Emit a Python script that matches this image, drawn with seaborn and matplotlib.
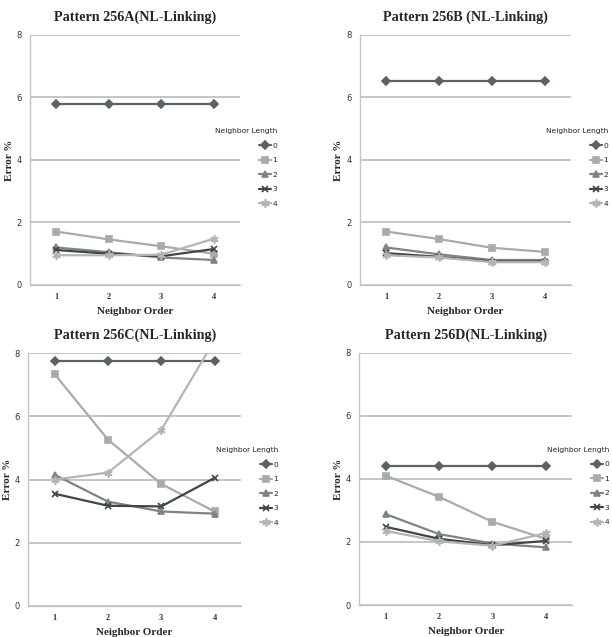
import numpy as np
import matplotlib
matplotlib.use("Agg")
import matplotlib.pyplot as plt
import seaborn as sns

orders = [1, 2, 3, 4]
lengths = ["0", "1", "2", "3", "4"]

titles = ["Pattern 256A(NL-Linking)", "Pattern 256B (NL-Linking)",
          "Pattern 256C(NL-Linking)", "Pattern 256D(NL-Linking)"]

# error % per neighbor length, one list per panel
err_a = [[5.78, 5.78, 5.78, 5.78],
         [1.71, 1.46, 1.24, 1.00],
         [1.20, 1.05, 0.88, 0.80],
         [1.12, 1.00, 0.92, 1.15],
         [0.95, 0.95, 0.97, 1.48]]
err_b = [[6.54, 6.54, 6.54, 6.54],
         [1.71, 1.47, 1.19, 1.06],
         [1.20, 0.98, 0.80, 0.80],
         [1.02, 0.90, 0.75, 0.75],
         [0.95, 0.88, 0.73, 0.73]]
err_c = [[7.74, 7.74, 7.74, 7.74],
         [7.33, 5.26, 3.86, 2.99],
         [4.15, 3.30, 2.99, 2.92],
         [3.55, 3.17, 3.15, 4.05],
         [4.00, 4.22, 5.57, 8.40]]
err_d = [[4.41, 4.41, 4.41, 4.41],
         [4.10, 3.43, 2.64, 2.10],
         [2.88, 2.25, 1.95, 1.83],
         [2.48, 2.10, 1.90, 2.03],
         [2.35, 2.02, 1.88, 2.28]]

colors = ["#5b6362", "#a9abaa", "#7b8583", "#3f4645", "#b3b5b4"]
markers = ["D", "s", "^", "x", (6, 2, 0)]
msizes = [4, 5, 5, 5, 6]

sns.set_style("white")

fig = plt.figure(figsize=(6.12, 6.37), dpi=100)
positions = [[0.049, 0.5526, 0.343, 0.3925],
             [0.588, 0.5526, 0.345, 0.3925],
             [0.046, 0.0487, 0.348, 0.397],
             [0.587, 0.0502, 0.348, 0.396]]

for pos, title, data in zip(positions, titles, [err_a, err_b, err_c, err_d]):
    ax = fig.add_axes(pos)
    for i in range(len(lengths)):
        sns.lineplot(x=orders, y=data[i], ax=ax, color=colors[i], marker=markers[i],
                     markersize=msizes[i], markeredgecolor=colors[i], markeredgewidth=1.2,
                     linewidth=1.6, label=lengths[i])
    ax.set_xlim(0.5, 4.5)
    ax.set_ylim(0, 8)
    ax.set_xticks(orders)
    ax.set_yticks([0, 2, 4, 6, 8])
    ax.tick_params(axis="both", length=0, labelsize=6, colors="#333333", pad=6)
    for lab in ax.get_xticklabels():
        lab.set_family("Liberation Serif")
        lab.set_fontweight("bold")
    ax.yaxis.grid(True, color="#b5b5b5", linewidth=1.1)
    ax.xaxis.grid(False)
    for s in ["top", "right"]:
        ax.spines[s].set_visible(False)
    for s in ["left", "bottom"]:
        ax.spines[s].set_color("#c4c4c4")
        ax.spines[s].set_linewidth(1.0)
    ax.set_title(title, fontsize=10.2, fontweight="bold", family="Liberation Serif", pad=10)
    ax.set_xlabel("Neighbor Order", fontsize=8, fontweight="bold", family="Liberation Serif", labelpad=4)
    ax.set_ylabel("Error %", fontsize=8, fontweight="bold", family="Liberation Serif", labelpad=2)
    leg = ax.legend(title="Neighbor Length", loc="upper left", bbox_to_anchor=(0.86, 0.645),
                    frameon=False, fontsize=5.4, title_fontsize=5.4, handlelength=1.6,
                    handletextpad=0.2, labelspacing=1.1, alignment="right",
                    borderaxespad=0.2)
    leg.set_clip_on(False)

plt.savefig("out.png", dpi=100)
